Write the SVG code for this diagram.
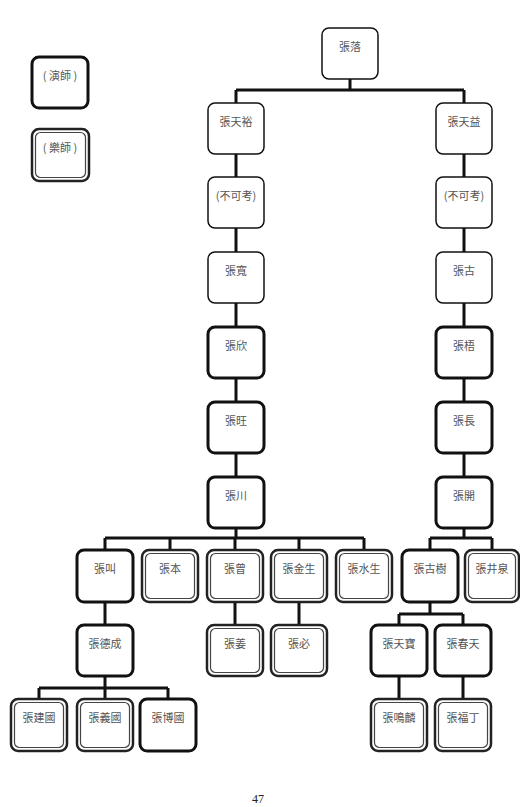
<svg xmlns="http://www.w3.org/2000/svg" width="520" height="807" viewBox="0 0 520 807">
<style>
.thin{fill:#fff;stroke:#111;stroke-width:1.5}
.thick{fill:#fff;stroke:#111;stroke-width:3}
.dout{fill:#fff;stroke:#222;stroke-width:2.5}
.din{fill:none;stroke:#444;stroke-width:1.2}
.t{font-family:"Noto Sans CJK TC","Noto Sans CJK SC",sans-serif;font-size:11px;fill:#555;text-anchor:middle}
.c{fill:none;stroke:#111;stroke-width:3}
.pg{font-family:"Liberation Serif",serif;font-size:12px;fill:#222}
</style>
<rect width="520" height="807" fill="#fff"/>
<g id="connectors">
<path class="c" d="M350 79V90M236 90H464M236 90V103M464 90V103"/>
<path class="c" d="M236 154V177M236 228V252M236 303V327M236 378V402M236 453V477"/>
<path class="c" d="M464 154V177M464 228V252M464 303V327M464 378V402M464 453V477"/>
<path class="c" d="M236 528V538M105 538H364M105 538V550M170 538V550M235 538V550M299 538V550M364 538V550"/>
<path class="c" d="M464 528V538M430 538H492M430 538V550M492 538V550"/>
<path class="c" d="M105 602V625M235 602V625M299 602V625"/>
<path class="c" d="M430 602V614M399 614H463M399 614V625M463 614V625"/>
<path class="c" d="M105 676V688M39 688H168M39 688V699M105 688V699M168 688V699"/>
<path class="c" d="M399 676V699M463 676V699"/>
</g>
<g id="legend-actor"><rect class="thick" x="32" y="57" width="56" height="51" rx="7"/><text class="t" x="60" y="80">( 演師 )</text></g>
<g id="legend-musician"><rect class="dout" x="32" y="129" width="57" height="52" rx="7"/><rect class="din" x="35.5" y="132.5" width="50" height="45" rx="5"/><text class="t" x="60" y="152">( 樂師 )</text></g>
<g id="n0"><rect class="thin" x="322" y="28" width="56" height="51" rx="7"/><text class="t" x="350" y="51">張落</text></g>
<g id="n1"><rect class="thin" x="208" y="103" width="56" height="51" rx="7"/><text class="t" x="236" y="126">張天裕</text></g>
<g id="n2"><rect class="thin" x="208" y="177" width="56" height="51" rx="7"/><text class="t" x="236" y="200">(不可考)</text></g>
<g id="n3"><rect class="thin" x="208" y="252" width="56" height="51" rx="7"/><text class="t" x="236" y="275">張寬</text></g>
<g id="n4"><rect class="thick" x="208" y="327" width="56" height="51" rx="7"/><text class="t" x="236" y="350">張欣</text></g>
<g id="n5"><rect class="thick" x="208" y="402" width="56" height="51" rx="7"/><text class="t" x="236" y="425">張旺</text></g>
<g id="n6"><rect class="thick" x="208" y="477" width="56" height="51" rx="7"/><text class="t" x="236" y="500">張川</text></g>
<g id="r1"><rect class="thin" x="436" y="103" width="56" height="51" rx="7"/><text class="t" x="464" y="126">張天益</text></g>
<g id="r2"><rect class="thin" x="436" y="177" width="56" height="51" rx="7"/><text class="t" x="464" y="200">(不可考)</text></g>
<g id="r3"><rect class="thin" x="436" y="252" width="56" height="51" rx="7"/><text class="t" x="464" y="275">張古</text></g>
<g id="r4"><rect class="thick" x="436" y="327" width="56" height="51" rx="7"/><text class="t" x="464" y="350">張梧</text></g>
<g id="r5"><rect class="thick" x="436" y="402" width="56" height="51" rx="7"/><text class="t" x="464" y="425">張長</text></g>
<g id="r6"><rect class="thick" x="436" y="477" width="56" height="51" rx="7"/><text class="t" x="464" y="500">張開</text></g>
<g id="c1"><rect class="thick" x="77" y="550" width="56" height="52" rx="7"/><text class="t" x="105" y="573">張叫</text></g>
<g id="c2"><rect class="dout" x="142" y="550" width="56" height="52" rx="7"/><rect class="din" x="145.5" y="553.5" width="49" height="45" rx="5"/><text class="t" x="170" y="573">張本</text></g>
<g id="c3"><rect class="dout" x="207" y="550" width="56" height="52" rx="7"/><rect class="din" x="210.5" y="553.5" width="49" height="45" rx="5"/><text class="t" x="235" y="573">張曾</text></g>
<g id="c4"><rect class="dout" x="271" y="550" width="56" height="52" rx="7"/><rect class="din" x="274.5" y="553.5" width="49" height="45" rx="5"/><text class="t" x="299" y="573">張金生</text></g>
<g id="c5"><rect class="dout" x="336" y="550" width="56" height="52" rx="7"/><rect class="din" x="339.5" y="553.5" width="49" height="45" rx="5"/><text class="t" x="364" y="573">張水生</text></g>
<g id="c6"><rect class="thick" x="402" y="550" width="56" height="52" rx="7"/><text class="t" x="430" y="573">張古樹</text></g>
<g id="c7"><rect class="dout" x="465" y="550" width="54" height="52" rx="7"/><rect class="din" x="468.5" y="553.5" width="47" height="45" rx="5"/><text class="t" x="492" y="573">張井泉</text></g>
<g id="d1"><rect class="thick" x="77" y="625" width="56" height="51" rx="7"/><text class="t" x="105" y="648">張德成</text></g>
<g id="d2"><rect class="dout" x="207" y="625" width="56" height="51" rx="7"/><rect class="din" x="210.5" y="628.5" width="49" height="44" rx="5"/><text class="t" x="235" y="648">張姜</text></g>
<g id="d3"><rect class="dout" x="271" y="625" width="56" height="51" rx="7"/><rect class="din" x="274.5" y="628.5" width="49" height="44" rx="5"/><text class="t" x="299" y="648">張必</text></g>
<g id="d4"><rect class="thick" x="371" y="625" width="56" height="51" rx="7"/><text class="t" x="399" y="648">張天寶</text></g>
<g id="d5"><rect class="thick" x="435" y="625" width="56" height="51" rx="7"/><text class="t" x="463" y="648">張春天</text></g>
<g id="e1"><rect class="dout" x="11" y="699" width="56" height="52" rx="7"/><rect class="din" x="14.5" y="702.5" width="49" height="45" rx="5"/><text class="t" x="39" y="722">張建國</text></g>
<g id="e2"><rect class="dout" x="77" y="699" width="56" height="52" rx="7"/><rect class="din" x="80.5" y="702.5" width="49" height="45" rx="5"/><text class="t" x="105" y="722">張義國</text></g>
<g id="e3"><rect class="thick" x="140" y="699" width="56" height="52" rx="7"/><text class="t" x="168" y="722">張博國</text></g>
<g id="e4"><rect class="dout" x="371" y="699" width="56" height="52" rx="7"/><rect class="din" x="374.5" y="702.5" width="49" height="45" rx="5"/><text class="t" x="399" y="722">張鳴麟</text></g>
<g id="e5"><rect class="dout" x="435" y="699" width="56" height="52" rx="7"/><rect class="din" x="438.5" y="702.5" width="49" height="45" rx="5"/><text class="t" x="463" y="722">張福丁</text></g>
<text class="pg" x="252" y="803">47</text>
</svg>
